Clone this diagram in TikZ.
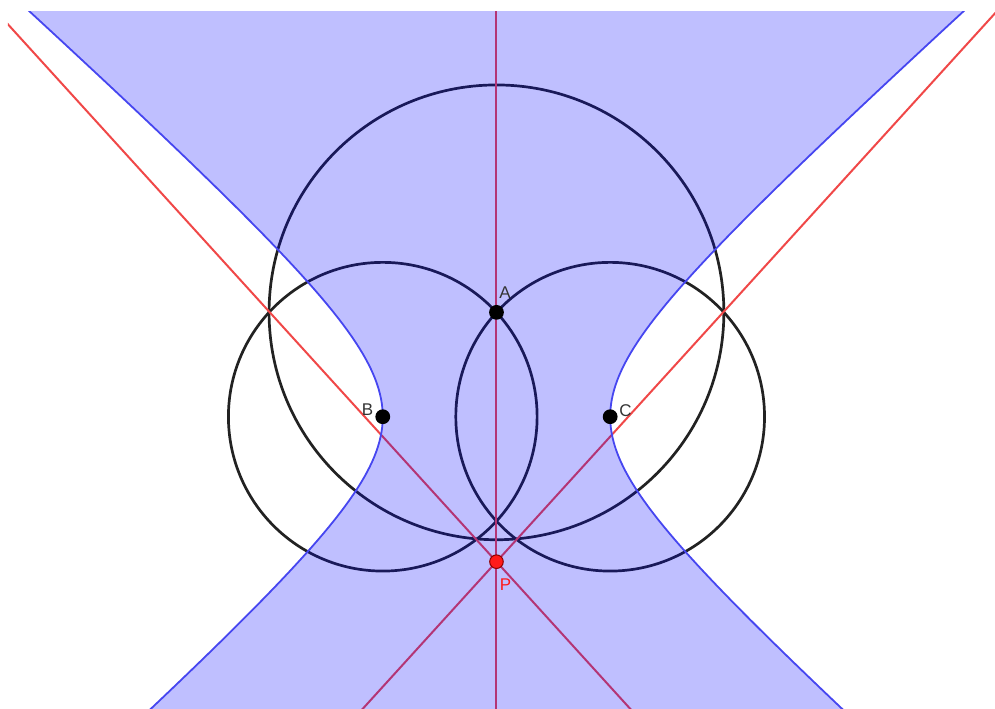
\documentclass[tikz,border=0pt]{standalone}
\usepackage{fontspec}
\setmainfont{Liberation Sans}
\usepackage{tikz}
\usepackage{xcolor}
\usetikzlibrary{positioning, calc}
\definecolor{cCircle}   {HTML}{222222}
\definecolor{cRadical}  {HTML}{F04848}
\definecolor{cRegion}   {HTML}{0000FF}
\definecolor{cBranch}   {HTML}{4646F0}
\definecolor{cLabel}    {HTML}{333333}
\definecolor{cPointP}   {HTML}{FF1A1A}
\definecolor{cPointRim} {HTML}{8C0000}
\newcommand{\hypb}{1.79}

\begin{document}
\begin{tikzpicture}[
    circ/.style={draw=cCircle, line width=1.35pt},
    radline/.style={draw=cRadical, line width=1pt},
    branch/.style={draw=cBranch, line width=0.9pt},
    dot/.style={circle, fill=black, inner sep=0pt, minimum size=7.4pt},
    ptlabel/.style={font=\fontsize{8.5}{9}\selectfont, text=cLabel, inner sep=0pt},
  ]
  \useasboundingbox (-8.733,-5.124) rectangle (8.769,7.330);
  \clip (-8.593,-5.124) rectangle (8.769,7.136);
  % points of the construction
  \coordinate (A) at (0,1.836);
  \coordinate (B) at (-2,0);
  \coordinate (C) at (2,0);
  \coordinate (P) at (0,-2.55);
  % far ends of the three lines (outside the clip)
  \coordinate (axisTop) at (0,7.5);
  \coordinate (axisBot) at (0,-5.5);
  \coordinate (radBtop) at (-9,7.35);
  \coordinate (radBbot) at (3,-5.85);
  \coordinate (radCtop) at (9,7.35);
  \coordinate (radCbot) at (-3,-5.85);
  % circles
  \draw[circ] (A) circle (4);
  \foreach \c in {B,C}{
    \draw[circ] (\c) circle (2.715);
  }
  % the three lines through P
  \draw[radline] (radBtop) -- (radBbot);
  \draw[radline] (radCtop) -- (radCbot);
  \draw[radline] (axisTop) -- (axisBot);
  % region between the two branches, laid over the lines
  \fill[cRegion, fill opacity=0.25]
    plot[variable=\t, domain=-2.2:1.9, samples=90] ({-2*cosh(\t)}, {-\hypb*sinh(\t)})
    -- plot[variable=\t, domain=-1.9:2.2, samples=90] ({2*cosh(\t)}, {\hypb*sinh(\t)})
    -- cycle;
  \draw[branch] plot[variable=\t, domain=-2.2:1.9, samples=90] ({-2*cosh(\t)}, {-\hypb*sinh(\t)});
  \draw[branch] plot[variable=\t, domain=-1.9:2.2, samples=90] ({2*cosh(\t)}, {\hypb*sinh(\t)});
  % points and labels
  \node[dot] (dotA) at (A) {};
  \node[dot] (dotB) at (B) {};
  \node[dot] (dotC) at (C) {};
  \node[dot, fill=cPointP, draw=cPointRim, line width=0.5pt, minimum size=6.8pt] (dotP) at (P) {};
  \node[ptlabel] (labA) at ([shift={(0.15,0.345)}]A) {A};
  \node[ptlabel] (labB) at ([shift={(-0.267,0.12)}]B) {B};
  \node[ptlabel] (labC) at ([shift={(0.27,0.11)}]C) {C};
  \node[ptlabel, text=cPointP] (labP) at ([shift={(0.16,-0.41)}]P) {P};
\end{tikzpicture}
\end{document}
